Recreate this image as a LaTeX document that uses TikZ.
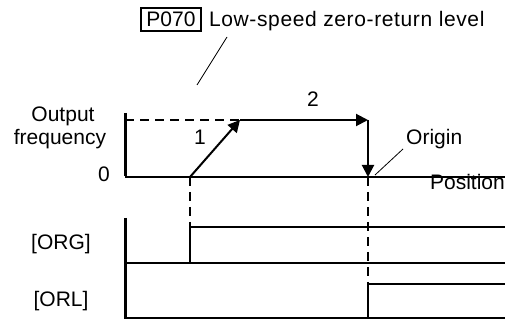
\documentclass[tikz,border=0pt]{standalone}
\usepackage{fontspec}
\setmainfont{Liberation Sans}
\usetikzlibrary{arrows.meta,positioning}

\begin{document}
\begin{tikzpicture}[x=1pt, y=-1pt,
  lbl/.style={font=\fontsize{21}{25}\selectfont, inner sep=0pt},
  axis/.style={line width=3pt},
  sig/.style={line width=2pt},
  guide/.style={line width=2pt, dash pattern=on 9pt off 6pt},
  lead/.style={line width=0.8pt},
  arr/.style={line width=2pt, -{Triangle[length=12pt, width=12pt]}}]
\useasboundingbox (0,0) rectangle (512,320);
\node[lbl, draw, line width=1.8pt, minimum width=60pt, minimum height=23pt] (p070) at (171,19.5) {P070};
\node[lbl, anchor=base west] (lvl) at ([xshift=7pt]p070.base east) {\addfontfeatures{LetterSpace=3}Low-speed zero-return level};
\coordinate (lvltail) at (227,37);
\coordinate (lvltip) at (197,85);
\node[lbl, anchor=base] (outp) at (63,122) {Output};
\node[lbl, anchor=base] (freq) at (60,145) {frequency};
\node[lbl, anchor=base east] (zero) at (110,182) {0};
\node[lbl, anchor=base] (one) at (200,145) {1};
\node[lbl, anchor=base] (two) at (313,107) {2};
\node[lbl, anchor=base west] (orig) at (406,145) {Origin};
\node[lbl, anchor=base east] (pos) at (505,190) {Position};
\node[lbl, anchor=base] (org) at (61,250) {[ORG]};
\node[lbl, anchor=base] (orl) at (61,307) {[ORL]};
\coordinate (ytop) at (125,113);
\coordinate (o) at (125,177);
\coordinate (xend) at (505,177);
\coordinate (dash0) at (125,120);
\coordinate (ramp0) at (190,177);
\coordinate (ramp1) at (240,120);
\coordinate (flat1) at (368,120);
\coordinate (stop) at (368,177);
\coordinate (origtail) at (375,175);
\coordinate (origtip) at (403,149);
\draw[axis] (ytop) -- ([yshift=1pt]o);
\draw[sig] (o) -- (xend);
\draw[guide] (dash0) -- (ramp1);
\draw[arr] (ramp0) -- (ramp1);
\draw[arr] (ramp1) -- (flat1);
\draw[arr] (flat1) -- (stop);
\draw[lead] (lvltail) -- (lvltip);
\draw[lead] (origtail) -- (origtip);
\coordinate (ltop) at (125,218);
\coordinate (lbot) at (125,319);
\draw[axis] (ltop) -- (lbot);
\draw[sig] (125,263) coordinate (orglo) -- (505,263);
\draw[sig] (190,263) -- (190,227) coordinate (orgup) -- (505,227);
\draw[sig] (125,318) coordinate (orllo) -- (505,318);
\draw[sig] (368,318) -- (368,284) coordinate (orlup) -- (505,284);
\draw[guide] (ramp0) -- (orgup);
\draw[guide] (stop) -- (orlup);
\end{tikzpicture}
\end{document}
